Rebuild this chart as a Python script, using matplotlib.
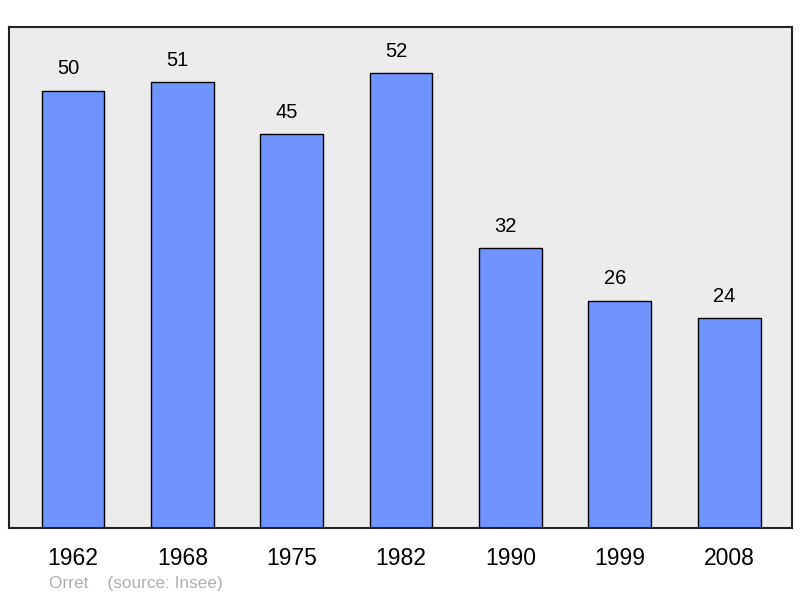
import matplotlib
matplotlib.use("Agg")
import matplotlib.pyplot as plt

years = ["1962", "1968", "1975", "1982", "1990", "1999", "2008"]
population = [50, 51, 45, 52, 32, 26, 24]

plt.rcParams["font.family"] = ["Liberation Sans", "DejaVu Sans"]

fig = plt.figure(figsize=(8, 5.98), dpi=100)
ax = fig.add_axes([0.01125, 0.117, 0.97875, 0.838])
ax.set_facecolor("#ececec")

pos = list(range(len(years)))
ax.bar(pos, population, width=0.575, color="#7094ff", edgecolor="black",
       linewidth=1.0, zorder=2)

for x, v in zip(pos, population):
    ax.annotate(str(v), (x, v), xytext=(-3.5, 9), textcoords="offset points",
                ha="center", va="bottom", fontsize=14.5)

ax.set_xlim(-0.585, 6.575)
ax.set_ylim(0, 57.3)
ax.set_yticks([])
ax.set_xticks(pos)
ax.set_xticklabels(years, fontsize=16.5)
ax.tick_params(axis="x", length=0, pad=13.5)
for s in ax.spines.values():
    s.set_linewidth(1.5)
    s.set_color("#222222")

fig.text(0.061, 0.011, "Orret    (source: Insee)", fontsize=12.4,
         color="#b0b0b0", ha="left", va="bottom")

fig.savefig("out.png", dpi=100, facecolor="white")
